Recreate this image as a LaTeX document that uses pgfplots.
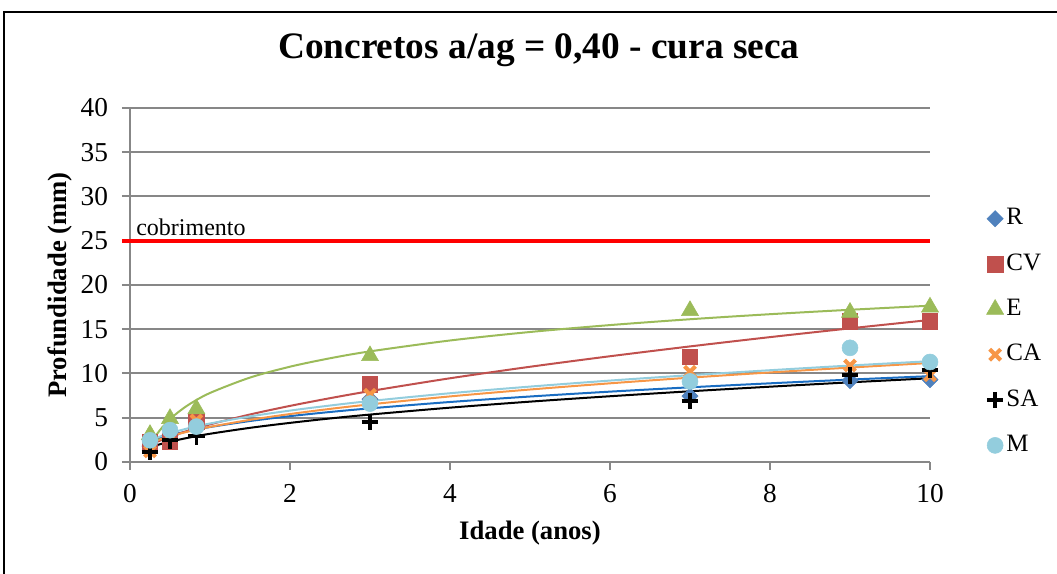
\documentclass[border=0pt]{standalone}
\usepackage{pgfplots}
\pgfplotsset{compat=1.18}
\usepackage{fontspec}
\setmainfont{Liberation Serif}

\definecolor{cR}{HTML}{4F81BD}
\definecolor{cRt}{HTML}{1A6DC2}
\definecolor{cCV}{HTML}{C0504D}
\definecolor{cE}{HTML}{9BBB59}
\definecolor{cCA}{HTML}{F79646}
\definecolor{cM}{HTML}{93CDDD}
\definecolor{gridc}{HTML}{878787}

\begin{document}
\begin{tikzpicture}
\useasboundingbox (-97.5pt,-84pt) rectangle (695.25pt,346.5pt);
\begin{axis}[
  at={(0,0)}, anchor=south west,
  scale only axis, width=600pt, height=265.5pt,
  xmin=0, xmax=10, ymin=0, ymax=40,
  xtick={0,2,...,10}, ytick={0,5,...,40},
  axis lines*=left,
  axis line style={gridc, line width=1.5pt},
  ymajorgrids, grid style={gridc, line width=1.5pt},
  tick style={gridc, line width=1.5pt},
  tick align=outside, major tick length=6pt,
  /pgf/number format/assume math mode=true,
  ticklabel style={font=\fontsize{20.5}{24}\selectfont},
  xticklabel style={yshift=-7pt},
  yticklabel style={xshift=-7pt},
  xlabel={Idade (anos)}, ylabel={Profundidade (mm)},
  every axis x label/.style={at={(axis description cs:0.5,-0.2)}, anchor=center,
    font=\bfseries\fontsize{20}{24}\selectfont},
  every axis y label/.style={at={(axis description cs:-0.0875,0.5)}, anchor=center, rotate=90,
    font=\bfseries\fontsize{20}{24}\selectfont},
  title={Concretos a/ag = 0,40 - cura seca},
  every axis title/.style={at={(axis description cs:0.511,1.1638)}, anchor=center,
    font=\bfseries\fontsize{28}{33}\selectfont},
  clip=false,
  legend cell align=left,
  legend image code/.code={\path (0pt,-6pt) (10pt,6pt); \draw[#1] plot coordinates {(5pt,0pt)};},
  legend style={draw=none, fill=none, at={(1.0704,0.72)}, anchor=north west,
    font=\fontsize{18.75}{22}\selectfont, inner sep=0pt, row sep=17pt,
    nodes={inner xsep=2pt, inner ysep=0pt, text height=13pt, text depth=4pt}},
]
% measured points
\addplot[only marks, mark=square*, mark size=4.3pt, mark options={rotate=45, fill=cR, draw=cR}]
  coordinates {(0.25,1.8) (0.5,3.0) (0.83,4.0) (3,7.1) (7,7.45) (9,9.2) (10,9.3)};
\addlegendentry{R}
\addplot[only marks, mark=square*, mark size=5.8pt, mark options={fill=cCV, draw=cCV}]
  coordinates {(0.25,2.25) (0.5,2.35) (0.83,4.6) (3,8.8) (7,11.9) (9,15.9) (10,15.9)};
\addlegendentry{CV}
\addplot[only marks, mark=triangle*, mark size=7.4pt, mark options={fill=cE, draw=cE}]
  coordinates {(0.25,3.1) (0.5,4.9) (0.83,6.0) (3,12.0) (7,17.1) (9,16.9) (10,17.5)};
\addlegendentry{E}
\addplot[only marks, mark=x, mark size=5.8pt, mark options={draw=cCA, line width=3pt}]
  coordinates {(0.25,1.2) (0.5,3.0) (0.83,4.7) (3,7.6) (7,10.2) (9,10.9) (10,9.8)};
\addlegendentry{CA}
\addplot[only marks, mark=+, mark size=6.2pt, mark options={draw=black, line width=2.8pt}]
  coordinates {(0.25,1.15) (0.5,2.45) (0.83,2.9) (3,4.5) (7,6.9) (9,9.8) (10,10.4)};
\addlegendentry{SA}
\addplot[only marks, mark=*, mark size=6pt, mark options={fill=cM, draw=cM}]
  coordinates {(0.25,2.45) (0.5,3.6) (0.83,4.0) (3,6.6) (7,9.1) (9,12.9) (10,11.3)};
\addlegendentry{M}

% trend lines
\addplot[cRt, line width=1.5pt, smooth, forget plot] coordinates {
  (0.25,2.30) (0.35,2.62) (0.5,3.01) (0.75,3.53) (1,3.95) (1.5,4.63) (2,5.18) (2.5,5.65)
  (3,6.06) (4,6.78) (5,7.40) (6,7.95) (7,8.44) (8,8.89) (9,9.31) (10,9.70)};
\addplot[cCV, line width=1.5pt, smooth, forget plot] coordinates {
  (0.25,1.91) (0.35,2.32) (0.5,2.85) (0.75,3.60) (1,4.25) (1.5,5.37) (2,6.34) (2.5,7.21)
  (3,8.01) (4,9.46) (5,10.76) (6,11.95) (7,13.06) (8,14.11) (9,15.10) (10,16.05)};
\addplot[cE, line width=1.5pt, smooth, forget plot] coordinates {
  (0.25,1.87) (0.3,2.65) (0.35,3.31) (0.4,3.88) (0.5,4.83) (0.6,5.61) (0.75,6.57) (1,7.80)
  (1.5,9.54) (2,10.77) (2.5,11.72) (3,12.50) (4,13.73) (5,14.69) (6,15.47) (7,16.13)
  (8,16.70) (9,17.20) (10,17.66)};
\addplot[cCA, line width=1.5pt, smooth, forget plot] coordinates {
  (0.25,2.13) (0.35,2.48) (0.5,2.91) (0.75,3.49) (1,3.97) (1.5,4.76) (2,5.42) (2.5,6.00)
  (3,6.51) (4,7.41) (5,8.19) (6,8.89) (7,9.53) (8,10.12) (9,10.67) (10,11.19)};
\addplot[black, line width=1.5pt, smooth, forget plot] coordinates {
  (0.25,1.66) (0.35,1.94) (0.5,2.30) (0.75,2.78) (1,3.19) (1.5,3.86) (2,4.42) (2.5,4.92)
  (3,5.36) (4,6.14) (5,6.82) (6,7.43) (7,7.99) (8,8.51) (9,9.00) (10,9.46)};
\addplot[cM, line width=1.5pt, smooth, forget plot] coordinates {
  (0.25,2.44) (0.35,2.80) (0.5,3.26) (0.75,3.86) (1,4.35) (1.5,5.15) (2,5.81) (2.5,6.38)
  (3,6.89) (4,7.77) (5,8.52) (6,9.20) (7,9.81) (8,10.37) (9,10.90) (10,11.39)};

% cover depth
\addplot[red, line width=2.8pt, forget plot] coordinates {(-0.1,25) (10,25)};
\node[anchor=base west, inner sep=0pt, font=\fontsize{18}{20}\selectfont]
  at (axis cs:0.075,25.55) {cobrimento};
\end{axis}
\draw[line width=1.8pt] (-94.5pt,-120pt) -- (-94.5pt,337.5pt) -- (720pt,337.5pt);
\end{tikzpicture}
\end{document}
